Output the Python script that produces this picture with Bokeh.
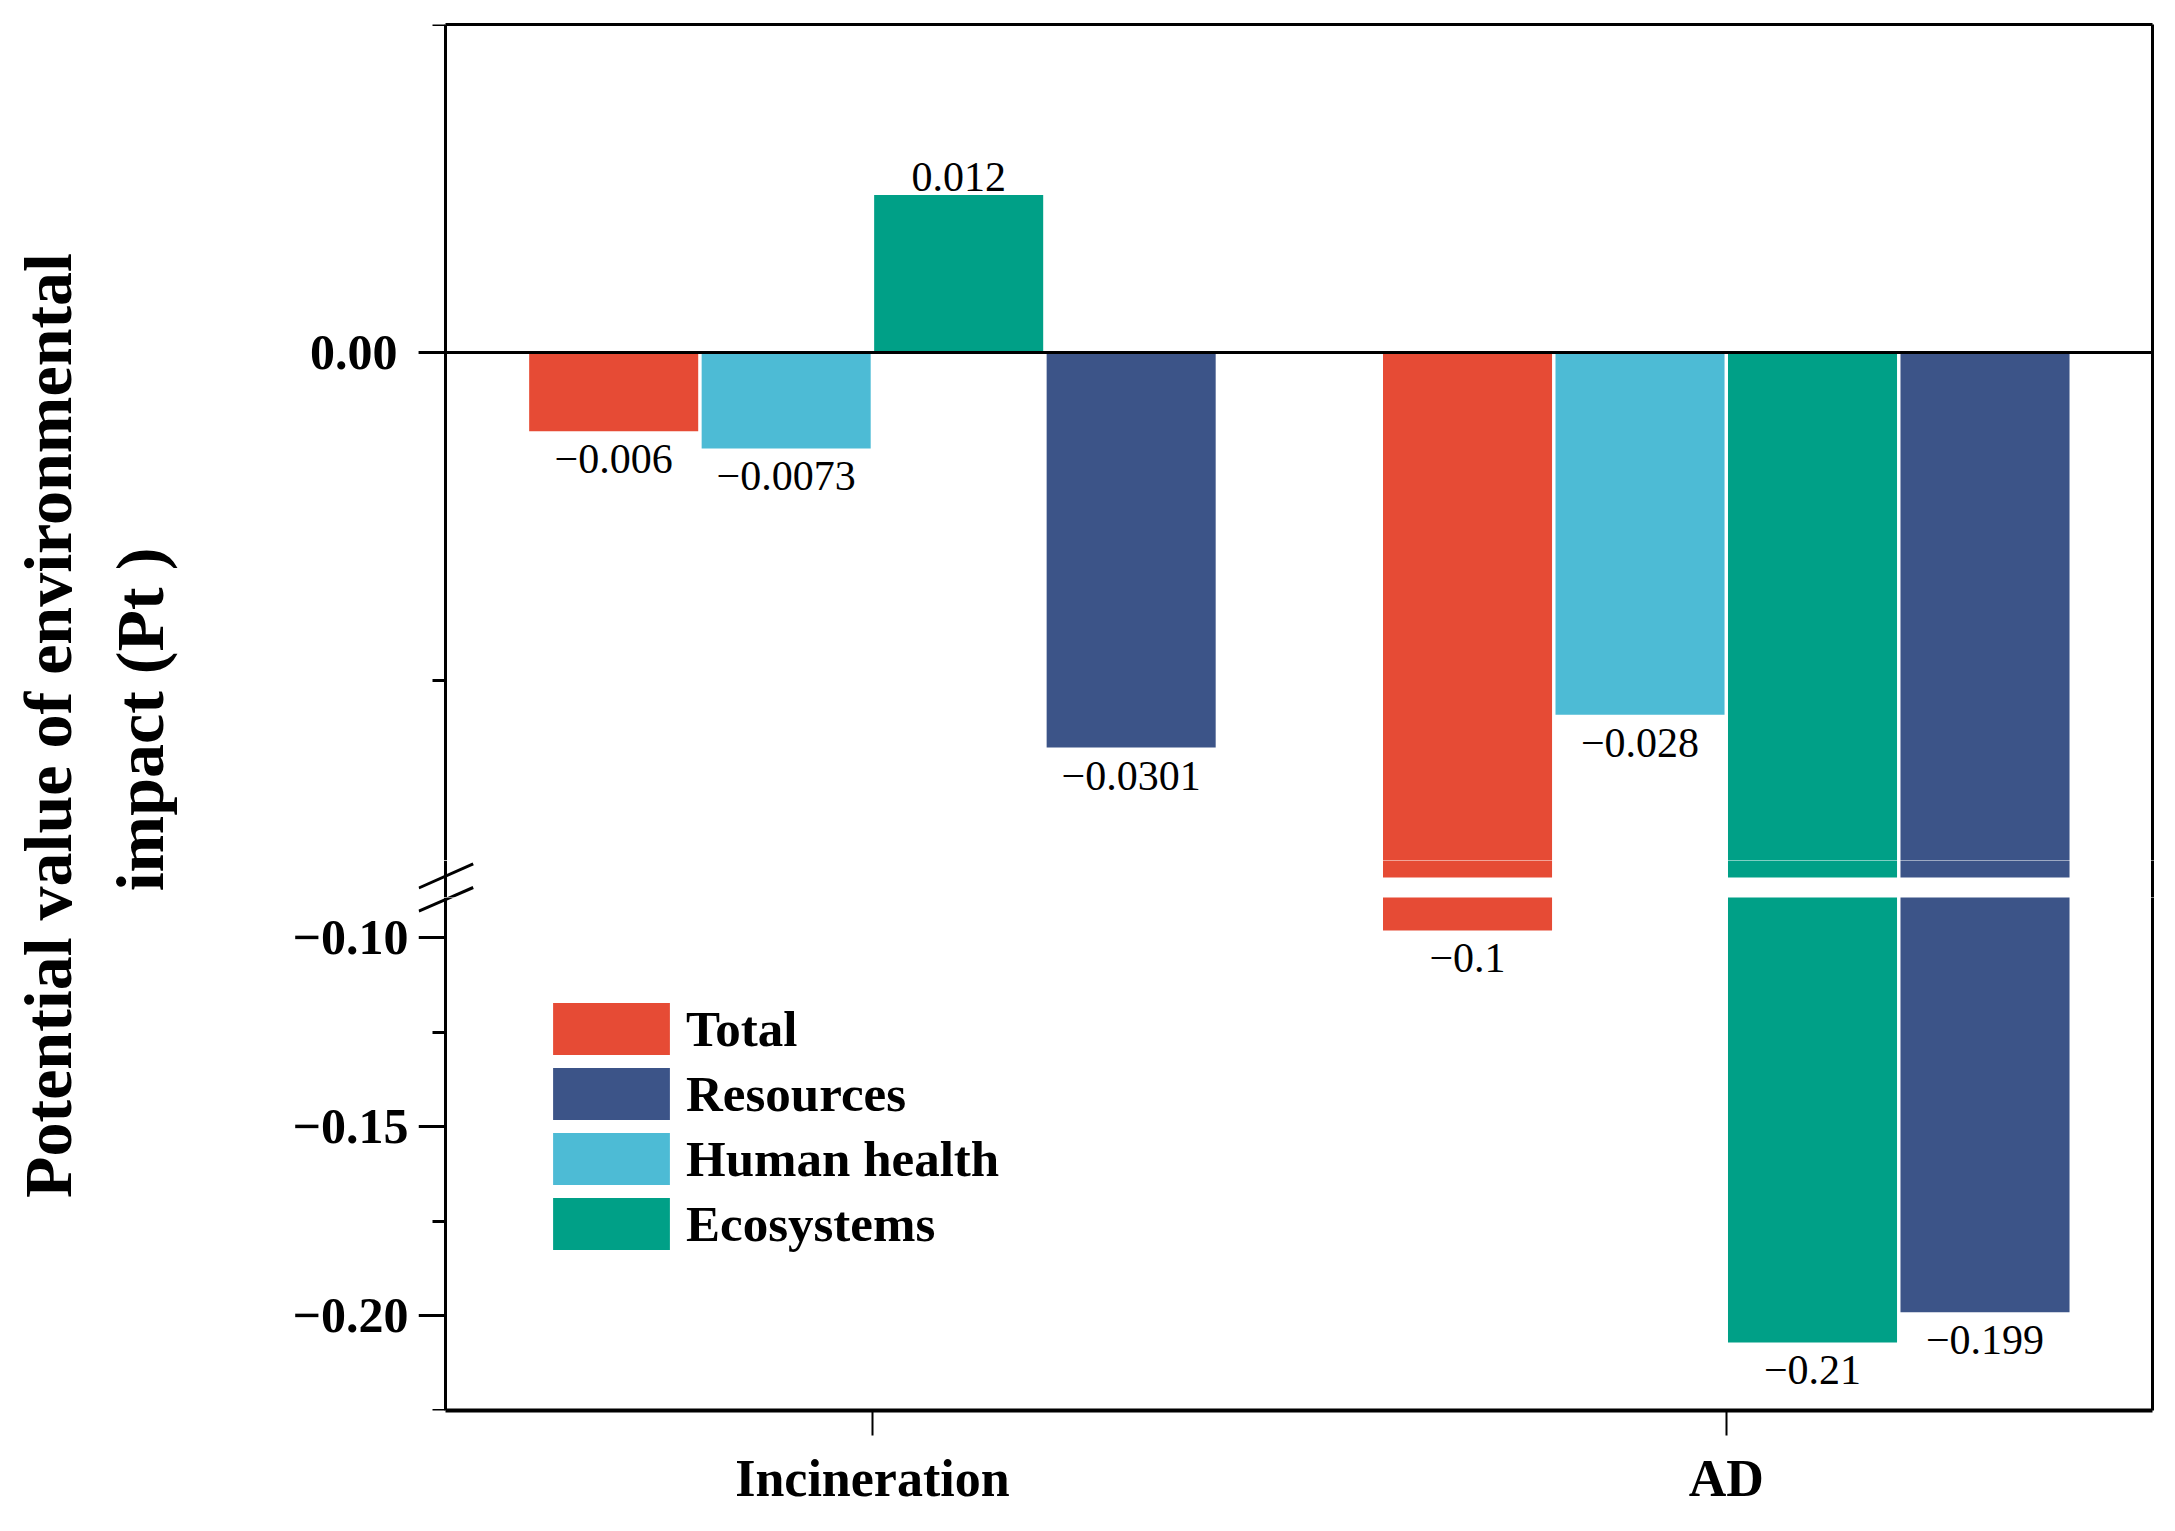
import math
from bokeh.plotting import figure
from bokeh.models import (ColumnDataSource, Range1d, LinearAxis, FixedTicker, Span,
                          BoxAnnotation, Legend, LegendItem, Arrow)
from bokeh.layouts import row, column
from bokeh.transform import dodge
from bokeh.core.properties import value
from bokeh.embed import file_html
from bokeh.resources import INLINE

# ---------------- data ----------------
groups = ["Incineration", "AD"]
series = ["Total", "Resources", "Human health", "Ecosystems"]
total = [-0.006, -0.098]
resources = [-0.0301, -0.199]
human_health = [-0.0073, -0.0276]
ecosystems = [0.012, -0.207]
total_labels = ["\u22120.006", "\u22120.1"]
resources_labels = ["\u22120.0301", "\u22120.199"]
human_health_labels = ["\u22120.0073", "\u22120.028"]
ecosystems_labels = ["0.012", "\u22120.21"]

upper_major = [0.0]
upper_major_labels = ["0.00"]
upper_minor = [-0.025, 0.025]
lower_major = [-0.10, -0.15, -0.20]
lower_major_labels = ["\u22120.10", "\u22120.15", "\u22120.20"]
lower_minor = [-0.125, -0.175, -0.225]

colors = {"Total": "#E64B35", "Resources": "#3C5488",
          "Human health": "#4DBBD5", "Ecosystems": "#00A087"}
values = {"Total": total, "Resources": resources,
          "Human health": human_health, "Ecosystems": ecosystems}
labels = {"Total": total_labels, "Resources": resources_labels,
          "Human health": human_health_labels, "Ecosystems": ecosystems_labels}

# ---------------- layout constants ----------------
FONT = "Liberation Serif"
GROUP_GAP = 4.95            # distance between group centres, in bar pitches
OFFSETS = {"Total": -1.5, "Human health": -0.5, "Ecosystems": 0.5, "Resources": 1.5}
BAR_W = 0.98
UPPER = (-0.04, 0.025)      # visible y limits of the upper segment
LOWER = (-0.225, -0.0893)   # visible y limits of the lower segment
UP_PX, LOW_PX = 853, 513    # pixel heights of the two segments
GAP = 20                    # white gap of the axis break
MID = 17                    # rows of the upper segment drawn in the break strip
EXT_L = 27                  # frame reaches this far left of the axis line
AXIS_W = 1707               # width from axis line to right border
X_START, X_END = -2.475, 7.421
TITLE_W = 208
BORDER_L, BORDER_R = 237 - EXT_L, 12
TOP_BORDER, BOT_BORDER = 24, 112

group_x = [i * GROUP_GAP for i in range(len(groups))]
x_px = AXIS_W / (X_END - X_START)
s_up = UP_PX / (UPPER[1] - UPPER[0])
s_low = LOW_PX / (LOWER[1] - LOWER[0])
FRAME_W = AXIS_W + EXT_L
xr = Range1d(X_START - EXT_L / x_px, X_END)

top_fh = UP_PX - MID
mid_fh = MID + GAP
bot_fh = LOW_PX
total_h = TOP_BORDER + top_fh + mid_fh + bot_fh + BOT_BORDER

yr_top = Range1d(UPPER[0] + MID / s_up, UPPER[1])
yr_mid = Range1d(UPPER[0] - GAP / s_up, UPPER[0] + MID / s_up)
yr_bot = Range1d(LOWER[0], LOWER[1])


def tick_axis(major, minor):
    """Axis line and ticks, drawn at the data position of the axis."""
    ax = LinearAxis(ticker=FixedTicker(ticks=major, minor_ticks=minor),
                    major_label_overrides={t: "" for t in major},
                    fixed_location=X_START)
    ax.axis_line_width = 3
    ax.axis_line_color = "black"
    ax.major_tick_line_width = 3
    ax.minor_tick_line_width = 3
    ax.major_tick_line_color = "black"
    ax.minor_tick_line_color = "black"
    ax.major_tick_in = 0
    ax.minor_tick_in = 0
    ax.major_tick_out = EXT_L
    ax.minor_tick_out = 13
    ax.major_label_standoff = 0
    ax.major_label_text_font_size = "1px"
    return ax


def label_axis(major, texts, standoff):
    """Tick labels only, placed at the frame edge (= end of the major ticks)."""
    ax = LinearAxis(ticker=FixedTicker(ticks=major, minor_ticks=[]),
                    major_label_overrides=dict(zip(major, texts)))
    ax.axis_line_color = None
    ax.major_tick_line_color = None
    ax.minor_tick_line_color = None
    ax.major_tick_out = 0
    ax.major_tick_in = 0
    ax.minor_tick_out = 0
    ax.minor_tick_in = 0
    ax.major_label_text_font = FONT
    ax.major_label_text_font_style = "bold"
    ax.major_label_text_font_size = "50px"
    ax.major_label_text_color = "black"
    ax.major_label_standoff = standoff
    return ax


def border_axis(**kw):
    ax = LinearAxis(ticker=FixedTicker(ticks=[], minor_ticks=[]), **kw)
    ax.axis_line_width = 3
    ax.axis_line_color = "black"
    ax.major_tick_out = 0
    ax.minor_tick_out = 0
    ax.major_tick_in = 0
    ax.minor_tick_in = 0
    ax.major_label_standoff = 0
    ax.major_label_text_font_size = "1px"
    return ax


def base_fig(y_range, fh, mbt, mbb):
    p = figure(x_range=xr, y_range=y_range, frame_width=FRAME_W, frame_height=fh,
               min_border_left=BORDER_L, min_border_right=BORDER_R,
               min_border_top=mbt, min_border_bottom=mbb,
               x_axis_location=None, y_axis_location=None,
               output_backend="svg", toolbar_location=None)
    p.outline_line_color = None
    p.grid.visible = False
    p.background_fill_color = "white"
    return p


def bar_source(s, keep):
    rows = [(gx, v) for gx, v in zip(group_x, values[s]) if keep(v)]
    return ColumnDataSource(dict(gx=[r[0] for r in rows], v=[r[1] for r in rows]))


def add_bars(p, keep):
    for s in series:
        src = bar_source(s, keep)
        if len(src.data["v"]):
            p.vbar(x=dodge("gx", OFFSETS[s]), top="v", bottom=0, width=BAR_W,
                   source=src, fill_color=colors[s], line_color=None)


def add_labels(p, keep):
    pos_lab = dict(x=[], y=[], t=[])
    neg_lab = dict(x=[], y=[], t=[])
    for s in series:
        for gx, v, lab in zip(group_x, values[s], labels[s]):
            if not keep(v):
                continue
            d = pos_lab if v > 0 else neg_lab
            d["x"].append(gx + OFFSETS[s])
            d["y"].append(v)
            d["t"].append(lab)
    common = dict(text="t", text_align="center", text_baseline="alphabetic",
                  text_font=value(FONT), text_font_size="42px", text_color="black")
    if pos_lab["x"]:
        p.text(x="x", y="y", source=ColumnDataSource(pos_lab), y_offset=-18, **common)
    if neg_lab["x"]:
        p.text(x="x", y="y", source=ColumnDataSource(neg_lab), y_offset=28, **common)


def slash(y0, y1):
    return Arrow(end=None, line_width=3, line_color="black", level="overlay",
                 x_start=X_START - 26.7 / x_px, x_end=X_START + 27.7 / x_px,
                 y_start=y0, y_end=y1)


# ---------------- upper segment ----------------
p_top = base_fig(yr_top, top_fh, TOP_BORDER, 0)
add_bars(p_top, lambda v: True)
add_labels(p_top, lambda v: v >= UPPER[0])
p_top.add_layout(label_axis(upper_major, upper_major_labels, 21), "left")
p_top.add_layout(tick_axis(upper_major, upper_minor), "left")
p_top.add_layout(border_axis(), "right")
p_top.add_layout(border_axis(bounds=(X_START, X_END)), "above")
p_top.add_layout(Span(location=0, dimension="width", line_color="black", line_width=3))

# ---------------- break strip ----------------
p_mid = base_fig(yr_mid, mid_fh, 0, 0)
add_bars(p_mid, lambda v: v < yr_mid.end)
p_mid.add_layout(BoxAnnotation(top=UPPER[0], fill_color="white", fill_alpha=1.0,
                               line_color=None, level="glyph"))
p_mid.add_layout(border_axis(fixed_location=X_START), "left")
p_mid.add_layout(border_axis(), "right")
p_mid.add_layout(slash(UPPER[0] - 10.5 / s_up, UPPER[0] + 13.6 / s_up))
p_mid.add_layout(slash(UPPER[0] - (GAP + 13.7) / s_up, UPPER[0] - 10.0 / s_up))

# ---------------- lower segment ----------------
p_bot = base_fig(yr_bot, bot_fh, 0, BOT_BORDER)
add_bars(p_bot, lambda v: v < LOWER[1])
add_labels(p_bot, lambda v: v <= LOWER[1])
# legend swatches (zero-width proxies carrying each series' colour)
proxies = {}
for s in series:
    proxies[s] = p_bot.vbar(x=dodge("gx", OFFSETS[s]), top="v", bottom="v", width=0,
                            source=bar_source(s, lambda v: True),
                            fill_color=colors[s], line_color=None)
p_bot.add_layout(label_axis(lower_major, lower_major_labels, 10), "left")
p_bot.add_layout(tick_axis(lower_major, lower_minor), "left")
p_bot.add_layout(border_axis(), "right")
p_bot.add_layout(slash(LOWER[1] - 13.7 / s_low, LOWER[1] + (GAP - 10.0) / s_low))
xax = LinearAxis(ticker=FixedTicker(ticks=group_x, minor_ticks=[]),
                 major_label_overrides=dict(zip(group_x, groups)),
                 bounds=(X_START, X_END))
xax.axis_line_width = 4
xax.axis_line_color = "black"
xax.major_tick_line_width = 2
xax.major_tick_line_color = "black"
xax.major_tick_in = 0
xax.major_tick_out = 25
xax.major_label_standoff = 14
xax.major_label_text_font = FONT
xax.major_label_text_font_style = "bold"
xax.major_label_text_font_size = "52px"
xax.major_label_text_color = "black"
p_bot.add_layout(xax, "below")
legend = Legend(items=[LegendItem(label=s, renderers=[proxies[s]]) for s in series],
                location=(120, 154), glyph_width=146, glyph_height=65, spacing=0,
                padding=0, margin=0, label_standoff=2,
                label_text_font=FONT, label_text_font_style="bold",
                label_text_font_size="51px", label_text_color="black",
                border_line_color=None, background_fill_alpha=0)
p_bot.add_layout(legend)

# ---------------- y-axis title ----------------
pt = figure(width=TITLE_W, height=total_h, x_range=Range1d(0, TITLE_W), y_range=Range1d(0, total_h),
            min_border=0, x_axis_location=None, y_axis_location=None,
            output_backend="svg", toolbar_location=None)
pt.outline_line_color = None
pt.grid.visible = False
title_lines = ["Potential value of environmental", "impact (Pt )"]
pt.text(x=[47, 139], y=[total_h - 725, total_h - 719], text=title_lines, angle=math.pi / 2,
        text_align="center", text_baseline="alphabetic", text_font=value(FONT),
        text_font_style="bold", text_font_size="68px", text_color="black")

layout = row(pt, column(p_top, p_mid, p_bot))
open("out.html", "w").write(file_html(layout, INLINE))
